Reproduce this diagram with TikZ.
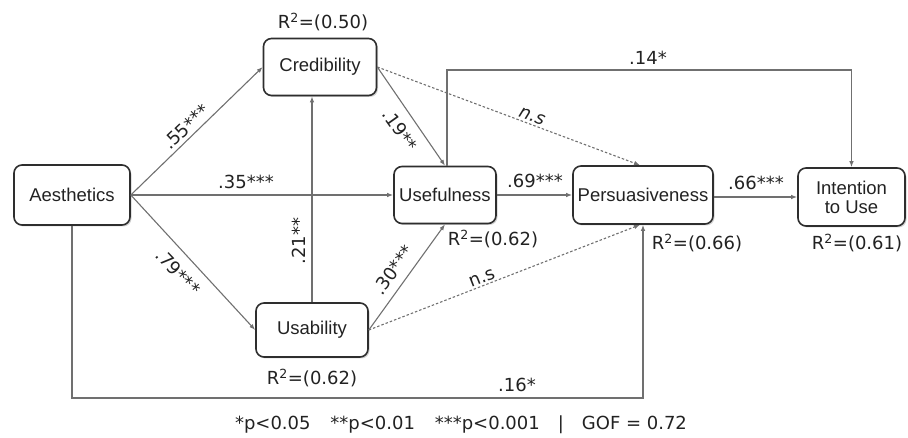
\documentclass[tikz,border=0pt]{standalone}
\usepackage{fontspec}
\setmainfont{Liberation Sans}
\newfontfamily\lblfont{DejaVu Sans}
\usetikzlibrary{arrows.meta,shadows}
\definecolor{edgegray}{HTML}{707070}
\definecolor{boxline}{HTML}{2E2E2E}
\definecolor{txt}{HTML}{222222}
\begin{document}
\begin{tikzpicture}[x=1pt,y=-1pt,
  box/.style={draw=boxline,line width=1.6pt,rounded corners=8pt,fill=white,
    drop shadow={shadow xshift=1.5pt,shadow yshift=-1.5pt,opacity=0.35},
    font=\fontsize{18.5}{21}\selectfont,text=txt,align=center,inner sep=0pt},
  conn/.style={draw=edgegray,line width=1.1pt,-{Latex[length=6pt,width=4.5pt]}},
  nsconn/.style={draw=edgegray,line width=1.1pt,dash pattern=on 2.5pt off 2pt,-{Latex[length=6pt,width=4.5pt]}},
  coef/.style={font=\lblfont\fontsize{18}{20}\selectfont,text=txt,inner sep=0pt},
  rsq/.style={font=\lblfont\fontsize{18}{20}\selectfont,text=txt,inner sep=0pt},
]
\useasboundingbox (0,0) rectangle (908,438);

% nodes
\node[box,minimum width=116pt,minimum height=60pt] (aes) at (72,195) {Aesthetics};
\node[box,minimum width=113pt,minimum height=57pt] (cred) at (320,67) {Credibility};
\node[box,minimum width=112pt,minimum height=54pt] (usab) at (312,330) {Usability};
\node[box,minimum width=102pt,minimum height=57pt] (usef) at (445,195) {Usefulness};
\node[box,minimum width=140pt,minimum height=58pt] (pers) at (643,195) {Persuasiveness};
\node[box,minimum width=107pt,minimum height=58pt] (int) at (851.5,197) {Intention\\[-2pt]to Use};

\coordinate (top) at (0,70);
\coordinate (bot) at (0,398);

% connectors
\draw[conn] (aes.east) -- (cred.west);
\draw[conn] (aes.east) -- (usef.west);
\draw[conn] (aes.east) -- (usab.west);
\draw[conn] (usab.north) -- (usab.north |- cred.south);
\draw[conn] (cred.east) -- (usef.north);
\draw[conn] (usab.east) -- (usef.south);
\draw[nsconn] (cred.east) -- ([xshift=-3pt]pers.north);
\draw[nsconn] (usab.east) -- ([xshift=-3pt]pers.south);
\draw[conn] (usef.east) -- (pers.west);
\draw[conn] (pers.east |- int.west) -- (int.west);
\draw[conn] ([xshift=2pt]usef.north) -- ([xshift=2pt]usef.north |- top) -| (int.north);
\draw[conn] (aes.south) -- (aes.south |- bot) -| (pers.south);

% coefficient labels
\node[coef,rotate=43.7] (l55) at (186,127) {.55***};
\node[coef] (l35) at (246,182) {.35***};
\node[coef,rotate=-54.7] (l19) at (400,130) {.19**};
\node[coef,rotate=-46.5] (l79) at (178,272) {.79***};
\node[coef,rotate=90] (l21) at (299,241) {.21**};
\node[coef,rotate=54.4] (l30) at (393,270) {.30***};
\node[coef,rotate=-20.4] (lns1) at (532,117) {\itshape n.s};
\node[coef,rotate=21.4] (lns2) at (482,278) {n.s};
\node[coef] (l69) at (535,181) {.69***};
\node[coef] (l66) at (756,183) {.66***};
\node[coef] (l14) at (648,58) {.14*};
\node[coef] (l16) at (517,385) {.16*};

% R squared labels
\node[rsq] (r1) at (323,22) {R\textsuperscript{2}=(0.50)};
\node[rsq] (r2) at (493,239) {R\textsuperscript{2}=(0.62)};
\node[rsq] (r3) at (697,243) {R\textsuperscript{2}=(0.66)};
\node[rsq] (r4) at (857,243) {R\textsuperscript{2}=(0.61)};
\node[rsq] (r5) at (312,378) {R\textsuperscript{2}=(0.62)};

% footer
\node[rsq] (foot) at (461,425) {*p<0.05\hspace{1.1em}**p<0.01\hspace{1.1em}***p<0.001\hspace{1em}|\hspace{1em}GOF = 0.72};
\end{tikzpicture}
\end{document}
